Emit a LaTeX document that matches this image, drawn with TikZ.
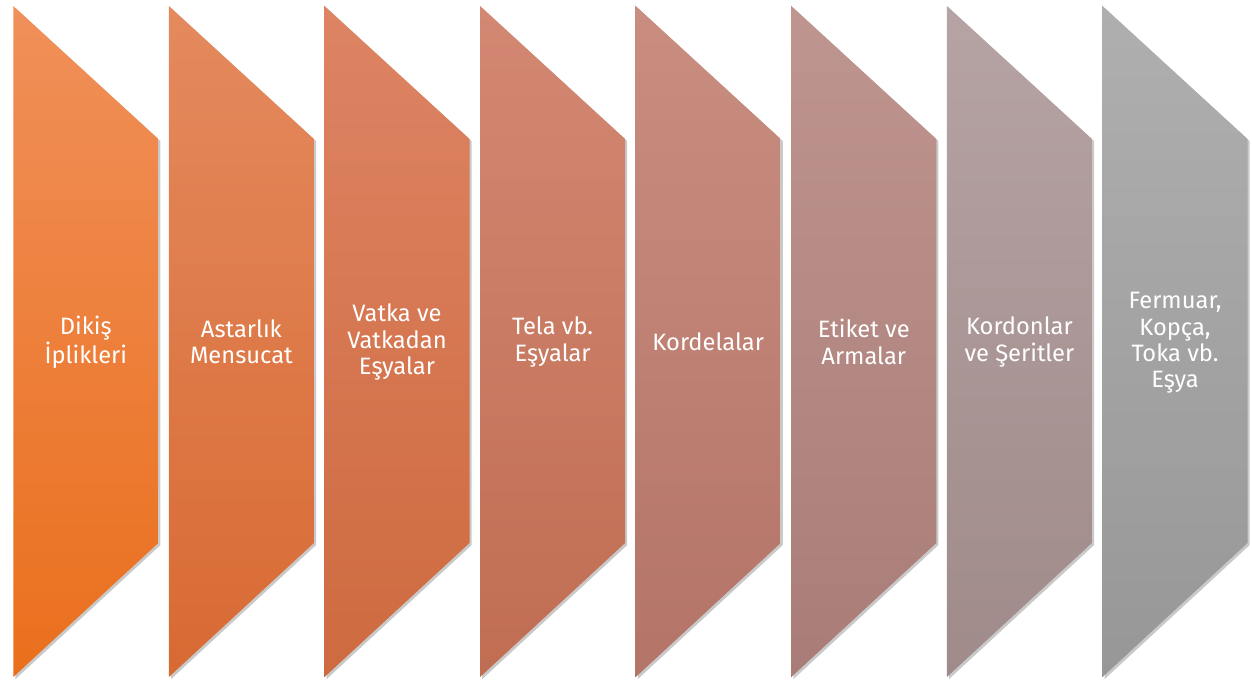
\documentclass[tikz,border=0pt]{standalone}
\usepackage{fontspec}
\setmainfont{Fira Sans}
\usetikzlibrary{shadows}
\definecolor{c1a}{HTML}{F0905A}\definecolor{c1b}{HTML}{EA6F1C}
\definecolor{c2a}{HTML}{E48A5E}\definecolor{c2b}{HTML}{D86A33}
\definecolor{c3a}{HTML}{DD8464}\definecolor{c3b}{HTML}{CE6A3F}
\definecolor{c4a}{HTML}{D38873}\definecolor{c4b}{HTML}{C06D52}
\definecolor{c5a}{HTML}{C98E80}\definecolor{c5b}{HTML}{B47468}
\definecolor{c6a}{HTML}{BF9590}\definecolor{c6b}{HTML}{A97C77}
\definecolor{c7a}{HTML}{B6A3A3}\definecolor{c7b}{HTML}{A08A8A}
\definecolor{c8a}{HTML}{AFAFAF}\definecolor{c8b}{HTML}{979797}
\tikzset{
  band/.style={drop shadow={shadow xshift=1.2pt,shadow yshift=-1.2pt,opacity=0.3,fill=black!70}},
  lbl/.style={text=white,align=center,font=\fontsize{13.5}{15}\selectfont}
}
\begin{document}
\begin{tikzpicture}[x=0.02cm,y=-0.02cm]
\useasboundingbox (0,0) rectangle (1252,682);
% the eight bands, left to right
\shade[band,top color=c1a,bottom color=c1b] (13.3,6)--(158.3,139)--(158.3,543)--(13.3,677)--cycle;
\shade[band,top color=c2a,bottom color=c2b] (168.9,6)--(313.9,139)--(313.9,543)--(168.9,677)--cycle;
\shade[band,top color=c3a,bottom color=c3b] (324.5,6)--(469.5,139)--(469.5,543)--(324.5,677)--cycle;
\shade[band,top color=c4a,bottom color=c4b] (480.1,6)--(625.1,139)--(625.1,543)--(480.1,677)--cycle;
\shade[band,top color=c5a,bottom color=c5b] (635.7,6)--(780.7,139)--(780.7,543)--(635.7,677)--cycle;
\shade[band,top color=c6a,bottom color=c6b] (791.3,6)--(936.3,139)--(936.3,543)--(791.3,677)--cycle;
\shade[band,top color=c7a,bottom color=c7b] (946.9,6)--(1091.9,139)--(1091.9,543)--(946.9,677)--cycle;
\shade[band,top color=c8a,bottom color=c8b] (1102.5,6)--(1247.5,139)--(1247.5,543)--(1102.5,677)--cycle;
% labels
\node[lbl] (dikis) at (85.8,342) {Dikiş\\İplikleri};
\node[lbl] (astar) at (241.4,342) {Astarlık\\Mensucat};
\node[lbl] (vatka) at (397.0,342) {Vatka ve\\Vatkadan\\Eşyalar};
\node[lbl] (tela) at (552.6,342) {Tela vb.\\Eşyalar};
\node[lbl] (kordela) at (708.2,342) {Kordelalar};
\node[lbl] (etiket) at (863.8,342) {Etiket ve\\Armalar};
\node[lbl] (kordon) at (1019.4,342) {Kordonlar\\ve Şeritler};
\node[lbl] (fermuar) at (1175.0,343) {Fermuar,\\Kopça,\\Toka vb.\\Eşya};
\end{tikzpicture}
\end{document}
